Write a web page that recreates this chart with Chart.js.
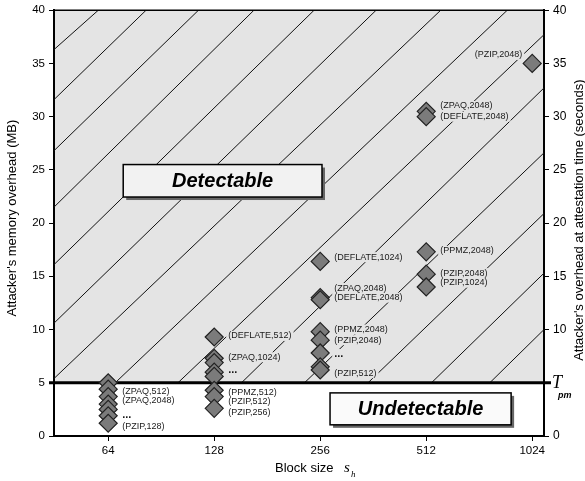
<!DOCTYPE html>
<html lang="en">
<head>
<meta charset="UTF-8">
<title>Attacker overhead vs block size</title>
<script src="https://cdn.jsdelivr.net/npm/chart.js"></script>
<style>
  html, body { margin: 0; padding: 0; background: #fff; }
</style>
</head>
<body>
<canvas id="chart" width="585" height="481"></canvas>
<script>
const blockSizes = [64, 128, 256, 512, 1024];
const overheadTicks = [0, 5, 10, 15, 20, 25, 30, 35, 40];
const threshold = 5; // T_pm

// attacker's memory overhead (MB), one list per block size
const at64 = [5.0, 4.4, 3.7, 3.0, 2.5, 1.9, 1.2];
const at128 = [9.3, 7.3, 6.9, 6.0, 5.6, 4.3, 3.7, 2.6];
const at256 = [16.4, 13.0, 12.8, 9.8, 9.0, 7.8, 6.5, 6.2];
const at512 = [30.5, 30.0, 17.3, 15.2, 14.0];
const at1024 = [35.0];
const seriesBySize = [at64, at128, at256, at512, at1024];

// point labels
const labelText = [
  '(ZPAQ,512)', '(ZPAQ,2048)', '...', '(PZIP,128)',
  '(DEFLATE,512)', '(ZPAQ,1024)', '...', '(PPMZ,512)', '(PZIP,512)', '(PZIP,256)',
  '(DEFLATE,1024)', '(ZPAQ,2048)', '(DEFLATE,2048)', '(PPMZ,2048)', '(PZIP,2048)', '...', '(PZIP,512)',
  '(ZPAQ,2048)', '(DEFLATE,2048)', '(PPMZ,2048)', '(PZIP,2048)', '(PZIP,1024)',
  '(PZIP,2048)'
];
const labelSize = [
  64, 64, 64, 64,
  128, 128, 128, 128, 128, 128,
  256, 256, 256, 256, 256, 256, 256,
  512, 512, 512, 512, 512,
  1024
];
const labelValue = [
  4.2, 3.3, 2.0, 0.85,
  9.4, 7.4, 6.2, 4.1, 3.2, 2.25,
  16.8, 13.9, 13.0, 10.0, 9.0, 7.7, 5.9,
  31.0, 30.0, 17.4, 15.3, 14.4,
  35.8
];
const labelLeft = [false, false, false, false, false, false, false, false, false, false,
  false, false, false, false, false, false, false, false, false, false, false, false, true];

// hatching of the detectable region: start / end (block size, MB)
const hatchX1 = [44.9, 44.9, 44.9, 44.9, 44.9, 44.9, 44.9, 67, 101, 153, 231, 350, 530, 776];
const hatchY1 = [36.3, 31.6, 26.8, 21.5, 16.1, 10.6, 5.4, 5, 5, 5, 5, 5, 5, 5];
const hatchX2 = [60, 82, 115.5, 166, 246, 369, 563, 870, 1106, 1106, 1106, 1106, 1106, 1106];
const hatchY2 = [40, 40, 40, 40, 40, 40, 40, 40, 37.7, 32.7, 26.6, 20.9, 15.3, 10.0];

const xMin = 44.9, xMax = 1106;
const FONT = 'Arial, "Liberation Sans", sans-serif';
const AREA_BG = '#e4e4e4';

const points = [];
blockSizes.forEach((s, i) => seriesBySize[i].forEach(v => points.push({x: s, y: v})));

const hatchSets = hatchX1.map((x1, i) => ({
  type: 'line',
  data: [{x: x1, y: hatchY1[i]}, {x: hatchX2[i], y: hatchY2[i]}],
  borderColor: '#111',
  borderWidth: 1,
  pointRadius: 0,
  order: 1
}));

function drawBox(ctx, x1, y1, x2, y2, fill, text) {
  ctx.fillStyle = '#666';
  ctx.fillRect(x1 + 3, y1 + 3, x2 - x1, y2 - y1);
  ctx.fillStyle = fill;
  ctx.fillRect(x1, y1, x2 - x1, y2 - y1);
  ctx.strokeStyle = '#000';
  ctx.lineWidth = 1.5;
  ctx.strokeRect(x1, y1, x2 - x1, y2 - y1);
  ctx.fillStyle = '#000';
  ctx.font = 'italic bold 20px ' + FONT;
  ctx.textAlign = 'center';
  ctx.textBaseline = 'middle';
  ctx.fillText(text, (x1 + x2) / 2, (y1 + y2) / 2 + 1);
}

const decor = {
  id: 'decor',
  beforeDraw(chart) {
    const {ctx, chartArea: a} = chart;
    const ty = chart.scales.y.getPixelForValue(threshold);
    ctx.save();
    ctx.fillStyle = AREA_BG;
    ctx.fillRect(a.left, a.top, a.right - a.left, ty - a.top);
    ctx.restore();
  },
  beforeDatasetDraw(chart, args) {
    if (args.index !== 0) return; // just before the diamonds
    const {ctx, chartArea: a} = chart;
    const x = chart.scales.x, y = chart.scales.y;
    ctx.save();

    // region boxes
    drawBox(ctx, x.getPixelForValue(70.6), y.getPixelForValue(25.5),
      x.getPixelForValue(259), y.getPixelForValue(22.45), '#f2f2f2', 'Detectable');
    drawBox(ctx, x.getPixelForValue(273), y.getPixelForValue(4.05),
      x.getPixelForValue(892), y.getPixelForValue(1.05), '#fafafa', 'Undetectable');

    // threshold line
    const ty = y.getPixelForValue(threshold);
    ctx.strokeStyle = '#000';
    ctx.lineWidth = 3;
    ctx.beginPath();
    ctx.moveTo(a.left - 5, ty);
    ctx.lineTo(a.right + 7, ty);
    ctx.stroke();

    // labels with a masking background
    ctx.textBaseline = 'middle';
    const boxes = labelText.map((t, i) => {
      const bold = t === '...';
      ctx.font = (bold ? 'bold 11px ' : '9px ') + FONT;
      const w = ctx.measureText(t).width;
      const px = x.getPixelForValue(labelSize[i]);
      const py = y.getPixelForValue(labelValue[i]);
      const tx = labelLeft[i] ? px - 10 - w : px + 14;
      return {t, bold, w, tx, py, bg: labelValue[i] > threshold ? AREA_BG : '#fff'};
    });
    boxes.forEach(b => {
      ctx.fillStyle = b.bg;
      ctx.fillRect(b.tx - 2, b.py - 5, b.w + 4, 10);
    });
    ctx.fillStyle = '#1a1a1a';
    ctx.textAlign = 'left';
    boxes.forEach(b => {
      ctx.font = (b.bold ? 'bold 11px ' : '9px ') + FONT;
      ctx.fillText(b.t, b.tx, b.py);
    });
    ctx.restore();
  },
  afterDraw(chart) {
    const {ctx, chartArea: a} = chart;
    const ty = chart.scales.y.getPixelForValue(threshold);
    ctx.save();
    // top frame
    ctx.strokeStyle = '#000';
    ctx.lineWidth = 1.5;
    ctx.beginPath();
    ctx.moveTo(a.left, a.top);
    ctx.lineTo(a.right, a.top);
    ctx.stroke();

    // T_pm on the right axis
    ctx.fillStyle = '#000';
    ctx.textBaseline = 'middle';
    ctx.textAlign = 'left';
    ctx.font = 'italic 18px "Liberation Serif", "Times New Roman", serif';
    ctx.fillText('T', a.right + 8, ty);
    ctx.font = 'italic bold 9px ' + FONT;
    ctx.fillText('pm', a.right + 14, ty + 13);

    // axis titles
    ctx.font = '13px ' + FONT;
    ctx.textAlign = 'center';
    ctx.save();
    ctx.translate(12, (a.top + a.bottom) / 2 - 5);
    ctx.rotate(-Math.PI / 2);
    ctx.fillText("Attacker's memory overhead (MB)", 0, 0);
    ctx.restore();
    ctx.save();
    ctx.translate(579, (a.top + a.bottom) / 2 - 3);
    ctx.rotate(-Math.PI / 2);
    ctx.fillText("Attacker's overhead at attestation time (seconds)", 0, 0);
    ctx.restore();

    const cx = (a.left + a.right) / 2;
    ctx.textAlign = 'left';
    ctx.fillText('Block size', cx - 24, 468);
    ctx.font = 'italic 15px "Liberation Serif", serif';
    ctx.fillText('s', cx + 45, 468);
    ctx.font = 'italic 9px "Liberation Serif", serif';
    ctx.fillText('h', cx + 52, 475);
    ctx.restore();
  }
};

const yTicks = axis => ({
  min: 0,
  max: 40,
  position: axis === 'y' ? 'left' : 'right',
  afterBuildTicks: s => { s.ticks = overheadTicks.map(v => ({value: v})); },
  afterFit: s => {
    s.width = axis === 'y' ? 54 : 41;
    s.paddingTop = 0;
    s.paddingBottom = 0;
  },
  ticks: {
    color: '#000',
    padding: 4,
    font: {family: FONT, size: axis === 'y' ? 11.5 : 12},
    callback: v => (axis === 'y2' && v === threshold) ? '' : v
  },
  grid: {drawOnChartArea: false, tickLength: 5, color: '#000', lineWidth: 1},
  border: {color: '#000', width: 2}
});

new Chart(document.getElementById('chart'), {
  type: 'scatter',
  data: {
    datasets: [
      {
        data: points,
        pointStyle: 'rectRot',
        pointRadius: 9,
        pointHoverRadius: 9,
        backgroundColor: '#7b7b7b',
        borderColor: '#222',
        borderWidth: 1.2,
        order: 0
      },
      ...hatchSets
    ]
  },
  options: {
    responsive: false,
    animation: false,
    events: [],
    layout: {padding: {top: 10, left: 0, right: 0, bottom: 0}},
    plugins: {legend: {display: false}, tooltip: {enabled: false}},
    scales: {
      x: {
        type: 'logarithmic',
        min: xMin,
        max: xMax,
        afterBuildTicks: s => { s.ticks = blockSizes.map(v => ({value: v})); },
        afterFit: s => { s.height = 45; s.paddingLeft = 0; s.paddingRight = 0; },
        ticks: {
          color: '#000',
          padding: 3,
          maxRotation: 0,
          autoSkip: false,
          font: {family: FONT, size: 11.5},
          callback: v => v
        },
        grid: {drawOnChartArea: false, tickLength: 5, color: '#000', lineWidth: 1},
        border: {color: '#000', width: 2}
      },
      y: yTicks('y'),
      y2: yTicks('y2')
    }
  },
  plugins: [decor]
});
</script>
</body>
</html>
